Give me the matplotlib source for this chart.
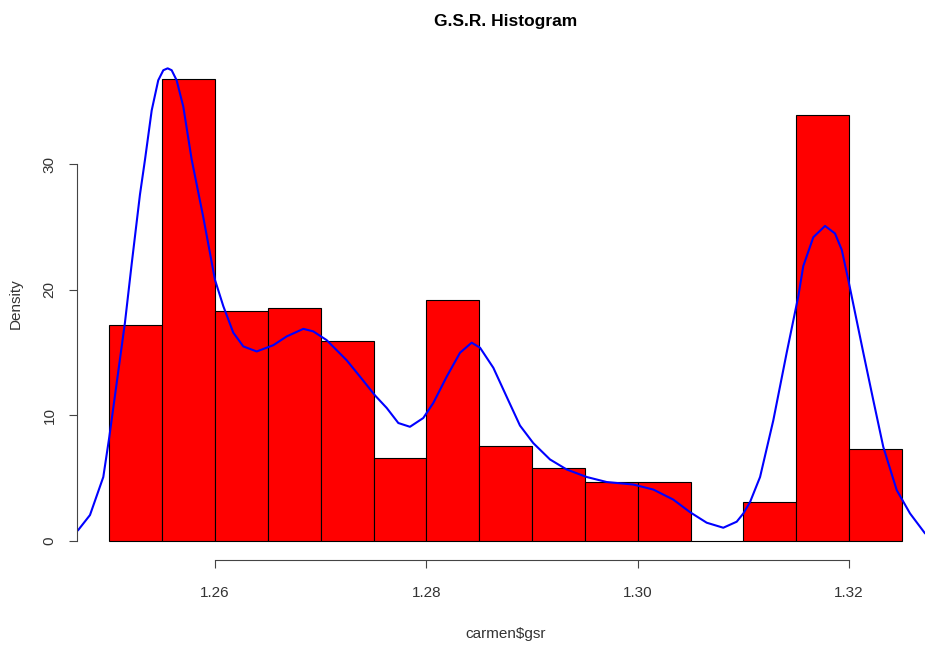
import numpy as np
from matplotlib import pyplot as plt

plt.rcParams['font.family'] = ['Liberation Sans', 'DejaVu Sans']

# histogram bins (width 0.005) and densities
bin_left = [1.250, 1.255, 1.260, 1.265, 1.270, 1.275, 1.280, 1.285,
            1.290, 1.295, 1.300, 1.305, 1.310, 1.315, 1.320]
density = [17.2, 36.8, 18.3, 18.6, 15.9, 6.6, 19.2, 7.6,
           5.8, 4.7, 4.7, 0.0, 3.1, 33.9, 7.3]

# kernel density curve (blue line)
kde_x = [1.24706, 1.24817, 1.24943, 1.25000, 1.25070, 1.25148, 1.25212,
         1.25290, 1.25338, 1.25401, 1.25463, 1.25511, 1.25552, 1.25590,
         1.25637, 1.25700, 1.25779, 1.25889, 1.26000, 1.26079, 1.26173,
         1.26268, 1.26395, 1.26552, 1.26679, 1.26836, 1.26930, 1.27057,
         1.27246, 1.27372, 1.27514, 1.27625, 1.27735, 1.27845, 1.27971,
         1.28066, 1.28193, 1.28319, 1.28429, 1.28508, 1.28634, 1.28776,
         1.28886, 1.29012, 1.29170, 1.29328, 1.29518, 1.29707, 1.29959,
         1.30148, 1.30337, 1.30495, 1.30653, 1.30810, 1.30937, 1.31000,
         1.31063, 1.31158, 1.31283, 1.31410, 1.31520, 1.31567, 1.31662,
         1.31773, 1.31867, 1.31931, 1.31993, 1.32135, 1.32230, 1.32324,
         1.32451, 1.32577, 1.32719, 1.32850]
kde_y = [0.88, 2.07, 5.1, 8.3, 12.6, 17.4, 22.1,
         27.6, 30.4, 34.3, 36.7, 37.5, 37.65, 37.5,
         36.7, 34.6, 30.4, 25.8, 20.8, 18.7, 16.6,
         15.5, 15.1, 15.6, 16.3, 16.9, 16.7, 16.0,
         14.4, 13.1, 11.6, 10.6, 9.4, 9.1, 9.8,
         11.0, 13.1, 15.0, 15.8, 15.4, 13.8, 11.2,
         9.2, 7.8, 6.5, 5.7, 5.1, 4.7, 4.5,
         4.1, 3.3, 2.3, 1.46, 1.06, 1.54, 2.2,
         3.1, 5.1, 9.6, 15.0, 19.5, 21.9, 24.2,
         25.1, 24.5, 23.2, 20.8, 15.0, 11.2, 7.5,
         4.06, 2.2, 0.61, 0.25]

x_ticks = [1.26, 1.28, 1.30, 1.32]
y_ticks = [0, 10, 20, 30]

fig = plt.figure(figsize=(9.25, 6.46), dpi=100)
ax = fig.add_axes([77.3 / 925, 86 / 646, 856.7 / 925, 512 / 646])

ax.bar(bin_left, density, width=0.005, align='edge', color='#ff0000',
       edgecolor='black', linewidth=0.8)
ax.plot(kde_x, kde_y, color='#0000ff', linewidth=1.5,
        solid_joinstyle='round')

ax.set_xlim(1.24697, 1.32804)
ax.set_ylim(-1.51, 39.27)

for side in ['top', 'right']:
    ax.spines[side].set_visible(False)
ax.spines['left'].set_bounds(0, 30)
ax.spines['bottom'].set_bounds(1.26, 1.32)
for side in ['left', 'bottom']:
    ax.spines[side].set_color('#444444')
    ax.spines[side].set_linewidth(0.8)

ax.set_xticks(x_ticks)
ax.set_xticklabels(['1.26', '1.28', '1.30', '1.32'])
ax.set_yticks(y_ticks)
ax.set_yticklabels([str(v) for v in y_ticks], rotation=90, va='center')
ax.tick_params(axis='both', direction='out', length=6, width=0.8,
               color='#444444', labelcolor='#333333', labelsize=11)
ax.tick_params(axis='x', pad=13)
ax.tick_params(axis='y', pad=9)

ax.set_xlabel('carmen$gsr', fontsize=11, color='#333333', labelpad=19)
ax.set_ylabel('Density', fontsize=11, color='#333333', labelpad=14)
ax.set_title('G.S.R. Histogram', fontsize=12.5, fontweight='bold', pad=16)

plt.savefig('out.png', dpi=100)
